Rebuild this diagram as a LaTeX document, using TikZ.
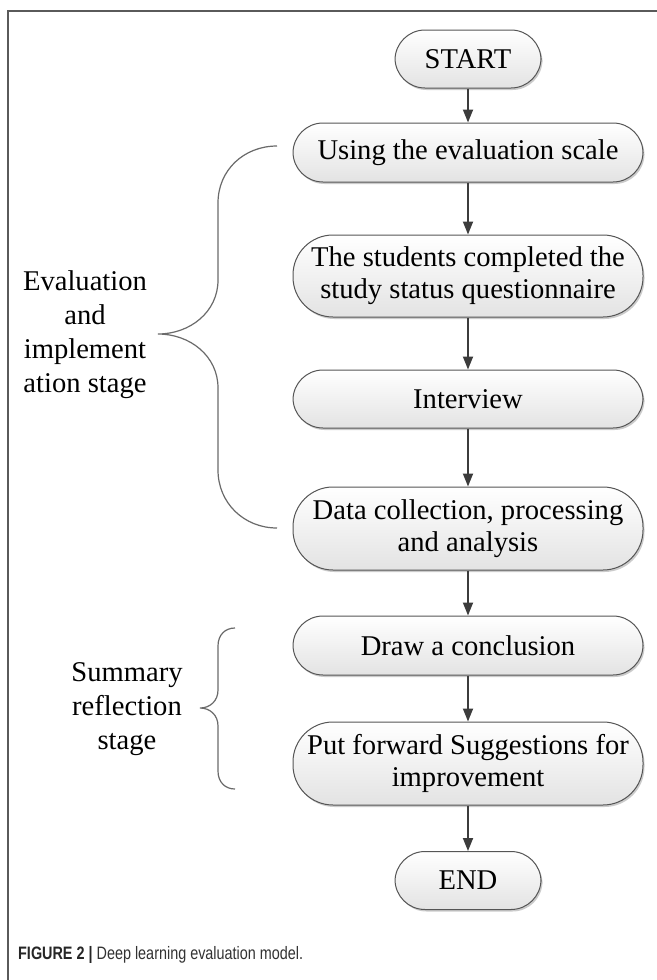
\documentclass[tikz,border=0pt]{standalone}
\usepackage{fontspec}
\usepackage{graphicx}
\setmainfont{Liberation Serif}
\newfontfamily\capfont{Liberation Sans}
\usetikzlibrary{arrows.meta,shadows}
\definecolor{boxline}{HTML}{555555}
\definecolor{arrowc}{HTML}{3C3C3C}
\definecolor{bracec}{HTML}{6A6A6A}
\definecolor{framec}{HTML}{5A5A5A}
\definecolor{capc}{HTML}{333333}
\newcommand\bxfont{\fontsize{28.6bp}{32bp}\selectfont}
\newcommand\lblfont{\fontsize{28.6bp}{34bp}\selectfont}
\begin{document}
\begin{tikzpicture}[x=1bp,y=-1bp,
  flowbox/.style={draw=boxline, line width=1bp, rounded corners=30bp,
    top color=white, bottom color=black!11,
    drop shadow={shadow xshift=1.5bp, shadow yshift=-2bp, fill=black!40, opacity=0.5},
    minimum width=350bp, minimum height=59bp, inner sep=0pt, align=center, font=\bxfont},
  termbox/.style={flowbox, minimum width=146bp, minimum height=58bp},
  tallbox/.style={flowbox, rounded corners=40bp, minimum height=83bp},
  arr/.style={draw=arrowc, line width=1.8bp, -{Triangle[width=10bp,length=13bp]}},
  brc/.style={draw=bracec, line width=1.2bp},
  lbl/.style={align=center, font=\lblfont, inner sep=0pt}
]
\useasboundingbox (0,0) rectangle (657,980);
\fill[white] (0,0) rectangle (657,980);
\draw[framec, line width=2bp] (8,980) -- (8,11) -- (657,11);

\node[termbox] (start) at (468,59) {START};
\node[flowbox] (use) at (468,152.5) {Using the evaluation scale};
\node[tallbox, minimum height=82bp] (stud) at (468,276) {The students completed the\\study status questionnaire};
\node[flowbox, minimum height=58bp] (inter) at (468,399) {Interview};
\node[tallbox] (data) at (468,528.5) {Data collection, processing\\and analysis};
\node[flowbox] (concl) at (468,645.5) {Draw a conclusion};
\node[tallbox] (put) at (468,763.5) {Put forward Suggestions for\\improvement};
\node[termbox] (end) at (468,880.5) {END};

\draw[arr] (start) -- (use);
\draw[arr] (use) -- (stud);
\draw[arr] (stud) -- (inter);
\draw[arr] (inter) -- (data);
\draw[arr] (data) -- (concl);
\draw[arr] (concl) -- (put);
\draw[arr] (put) -- (end);

\draw[brc] (277,146) .. controls (244,146) and (218,170) .. (218,203) -- (218,280)
  .. controls (218,312) and (190,334) .. (158,334)
  .. controls (190,334) and (218,356) .. (218,388) -- (218,470)
  .. controls (218,503) and (244,528) .. (277,528);
\node[lbl] (evlbl) at (85,335) {Evaluation\\and\\implement\\ation stage};

\draw[brc] (235,628) .. controls (225,628) and (218,635) .. (218,646) -- (218,690)
  .. controls (218,701) and (210,708) .. (200,708)
  .. controls (210,708) and (218,715) .. (218,726) -- (218,771)
  .. controls (218,782) and (225,789) .. (235,789);
\node[lbl] (sumlbl) at (127,709) {Summary\\reflection\\stage};

\node[anchor=west, inner sep=0pt, text=capc] (cap) at (18,955)
  {\capfont\fontsize{18bp}{21bp}\selectfont\scalebox{0.80}[1]{\textbf{\color{black!85}FIGURE 2 |} Deep learning evaluation model.}};
\end{tikzpicture}
\end{document}
